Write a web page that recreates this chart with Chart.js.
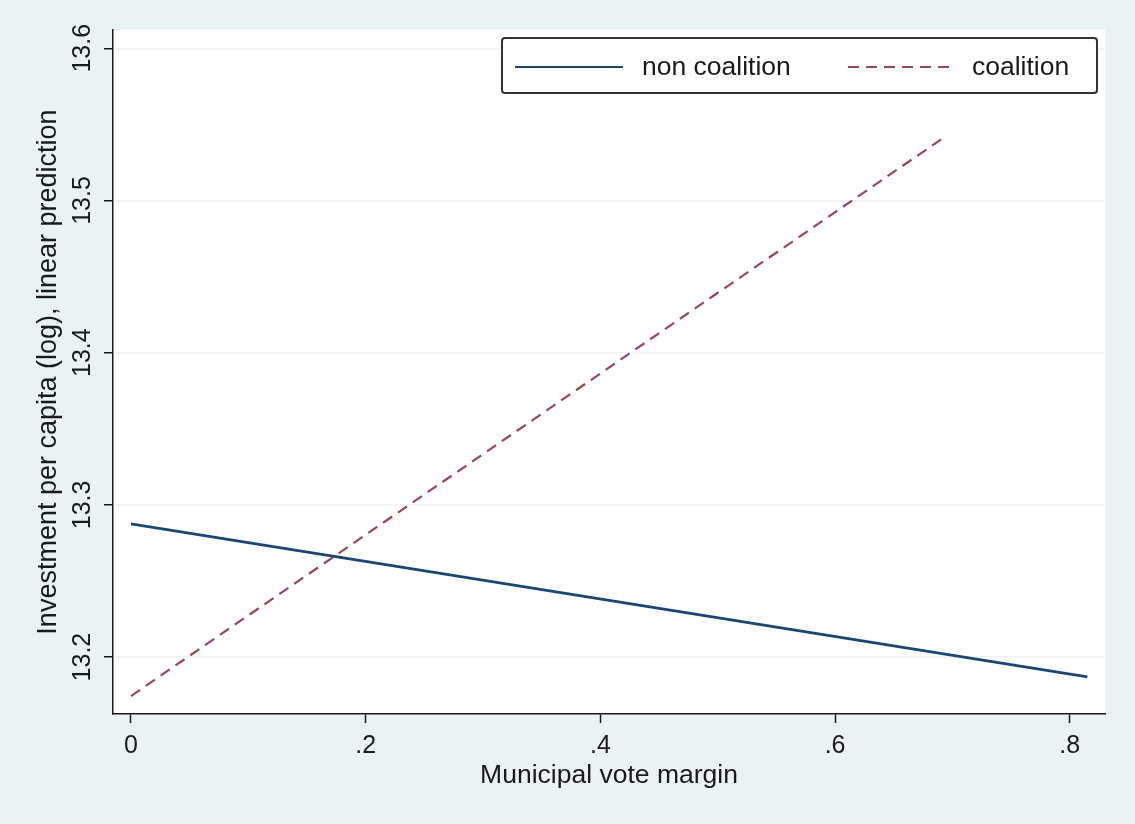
<!DOCTYPE html>
<html lang="en">
<head>
    <meta charset="UTF-8" />
    <title>Investment per capita by vote margin</title>
    <style>
        html, body {
            margin: 0;
            padding: 0;
            background: #eaf2f3;
        }
        #wrap {
            width: 1135px;
            height: 824px;
        }
    </style>
</head>
<body>
    <div id="wrap"><canvas id="chart" width="1135" height="824"></canvas></div>
    <script src="https://cdn.jsdelivr.net/npm/chart.js@4.4.0/dist/chart.umd.min.js"></script>
    <script>
        // values
        const marginX = [0, 0.815];
        const nonCoalition = [13.2875, 13.187];
        const coalitionX = [0, 0.692];
        const coalition = [13.1744, 13.541];
        const xTicks = [0, 0.2, 0.4, 0.6, 0.8];
        const yTicks = [13.2, 13.3, 13.4, 13.5, 13.6];
        const seriesNames = ["non coalition", "coalition"];

        const FONT = "'Liberation Sans', Arial, Helvetica, sans-serif";
        const NAVY = "#1a476f";
        const MAROON = "#9a4654";

        function pts(xs, ys) {
            return xs.map((x, i) => ({ x: x, y: ys[i] }));
        }

        const bgPlugin = {
            id: "bg",
            beforeDraw(chart) {
                const ctx = chart.ctx;
                const a = chart.chartArea;
                ctx.save();
                ctx.fillStyle = "#eaf2f3";
                ctx.fillRect(0, 0, chart.width, chart.height);
                ctx.fillStyle = "#ffffff";
                ctx.fillRect(a.left, a.top, a.right - a.left, a.bottom - a.top);
                ctx.restore();
            },
            afterDraw(chart) {
                // legend box inside the plot, top right
                const ctx = chart.ctx;
                const bx = 502, by = 38, bw = 595, bh = 55;
                ctx.save();
                ctx.fillStyle = "#ffffff";
                ctx.strokeStyle = "#333333";
                ctx.lineWidth = 2;
                ctx.beginPath();
                ctx.roundRect(bx, by, bw, bh, 3);
                ctx.fill();
                ctx.stroke();
                const cy = 67;
                const items = [
                    { x0: 515, x1: 623, tx: 642 },
                    { x0: 848, x1: 956, tx: 972 },
                ];
                chart.data.datasets.forEach((ds, i) => {
                    const it = items[i];
                    ctx.strokeStyle = ds.borderColor;
                    ctx.lineWidth = 2;
                    ctx.setLineDash(ds.borderDash || []);
                    ctx.beginPath();
                    ctx.moveTo(it.x0, cy);
                    ctx.lineTo(it.x1, cy);
                    ctx.stroke();
                    ctx.setLineDash([]);
                    ctx.fillStyle = "#1a1a1a";
                    ctx.font = "26.5px " + FONT;
                    ctx.textBaseline = "middle";
                    ctx.fillText(ds.label, it.tx, cy + 1);
                });
                ctx.restore();
            },
        };

        new Chart(document.getElementById("chart"), {
            type: "scatter",
            data: {
                datasets: [
                    {
                        label: seriesNames[0],
                        data: pts(marginX, nonCoalition),
                        showLine: true,
                        borderColor: NAVY,
                        borderWidth: 2.8,
                        pointRadius: 0,
                    },
                    {
                        label: seriesNames[1],
                        data: pts(coalitionX, coalition),
                        showLine: true,
                        borderColor: MAROON,
                        borderWidth: 2.2,
                        borderDash: [11, 7],
                        pointRadius: 0,
                    },
                ],
            },
            options: {
                responsive: false,
                animation: false,
                layout: { padding: { left: 0, top: 30, right: 30, bottom: 0 } },
                plugins: {
                    legend: { display: false },
                    tooltip: { enabled: false },
                },
                scales: {
                    x: {
                        type: "linear",
                        min: -0.0153,
                        max: 0.83,
                        afterBuildTicks(s) {
                            s.ticks = xTicks.map((v) => ({ value: v }));
                        },
                        afterFit(s) {
                            s.height = 110;
                        },
                        ticks: {
                            color: "#1a1a1a",
                            font: { family: FONT, size: 25 },
                            padding: 8,
                            maxRotation: 0,
                            callback: (v) => (v === 0 ? "0" : v.toFixed(1).replace("0.", ".")),
                        },
                        grid: {
                            drawOnChartArea: false,
                            tickLength: 9,
                            tickColor: "#1a1a1a",
                            tickWidth: 1.5,
                        },
                        border: { color: "#1a1a1a", width: 1.5 },
                        title: {
                            display: true,
                            text: "Municipal vote margin",
                            color: "#1a1a1a",
                            font: { family: FONT, size: 26.5 },
                            padding: { top: 0, bottom: 32 },
                        },
                    },
                    y: {
                        type: "linear",
                        min: 13.1626,
                        max: 13.612,
                        afterBuildTicks(s) {
                            s.ticks = yTicks.map((v) => ({ value: v }));
                        },
                        afterFit(s) {
                            s.width = 113;
                        },
                        ticks: {
                            color: "#1a1a1a",
                            font: { family: FONT, size: 25 },
                            minRotation: 90,
                            maxRotation: 90,
                            crossAlign: "center",
                            padding: -3,
                            callback: (v) => v.toFixed(1),
                        },
                        grid: {
                            color: "#eef3f4",
                            lineWidth: 1.5,
                            tickLength: 9,
                            tickColor: "#1a1a1a",
                            tickWidth: 1.5,
                        },
                        border: { color: "#1a1a1a", width: 1.5 },
                        title: {
                            display: true,
                            text: "Investment per capita (log), linear prediction",
                            color: "#1a1a1a",
                            font: { family: FONT, size: 27 },
                            padding: { top: 32, bottom: 0 },
                        },
                    },
                },
            },
            plugins: [bgPlugin],
        });
    </script>
</body>
</html>
